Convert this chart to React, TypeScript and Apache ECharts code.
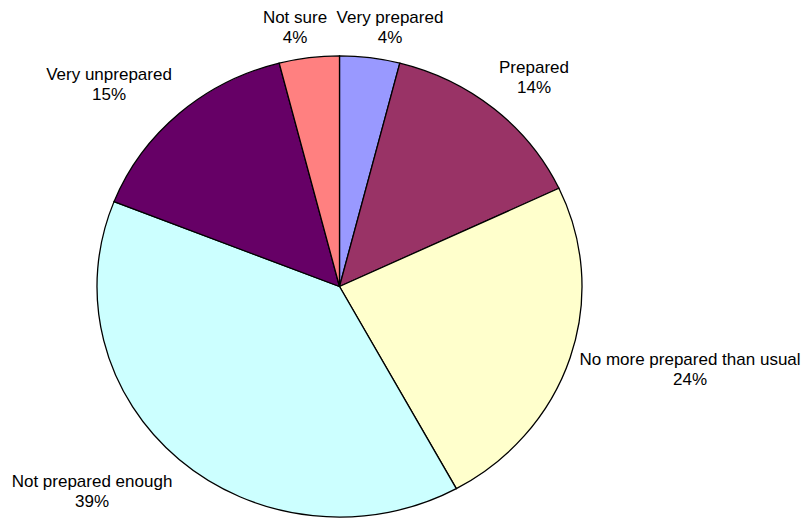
import React, { useEffect, useRef } from "react";
import * as echarts from "echarts";

const categories = [
  "Very prepared",
  "Prepared",
  "No more prepared than usual",
  "Not prepared enough",
  "Very unprepared",
  "Not sure",
];
const values = [4, 14, 24, 39, 15, 4];

const colors = ["#9999FF", "#993366", "#FFFFCC", "#CCFFFF", "#660066", "#FF8080"];
// label block centers (layout only)
const labelLayout: [number, number][] = [
  [390, 27],
  [534, 77],
  [690, 369],
  [92, 491],
  [109, 84],
  [295, 27],
];

const CX = 339.5;
const CY = 286.5;
const RX = 242.5;
const RY = 230.5;

export default function App() {
  const ref = useRef<HTMLDivElement>(null);
  useEffect(() => {
    if (!ref.current) return;
    const chart = echarts.init(ref.current, null, { renderer: "svg" });
    const total = values.reduce((a, b) => a + b, 0);
    const starts: number[] = [];
    let acc = 0;
    values.forEach((v) => {
      starts.push(acc);
      acc += v;
    });
    chart.setOption({
      animation: false,
      series: [
        {
          type: "custom",
          coordinateSystem: "none",
          data: values.map((v, i) => ({ value: v, name: categories[i] })),
          renderItem: (params: any, api: any) => {
            const i = params.dataIndex;
            const v = api.value(0);
            const a0 = -Math.PI / 2 + (starts[i] / total) * Math.PI * 2;
            const a1 = a0 + (v / total) * Math.PI * 2;
            return {
              type: "sector",
              x: CX,
              y: CY,
              scaleY: RY / RX,
              shape: { cx: 0, cy: 0, r0: 0, r: RX, startAngle: a0, endAngle: a1, clockwise: true },
              style: {
                fill: colors[i],
                stroke: "#000",
                lineWidth: 1.3,
                strokeNoScale: true,
              },
            };
          },
        },
      ],
      graphic: categories.map((c, i) => ({
        type: "text",
        x: labelLayout[i][0],
        y: labelLayout[i][1],
        style: {
          text: `${c}\n${Math.round((values[i] / total) * 100)}%`,
          fill: "#000",
          font: '17px "Liberation Sans", Arial, sans-serif',
          fontSize: 17,
          fontFamily: '"Liberation Sans", Arial, sans-serif',
          lineHeight: 20,
          align: "center",
          verticalAlign: "middle",
        },
      })),
    });
    return () => chart.dispose();
  }, []);
  return <div ref={ref} style={{ width: 804, height: 518, position: "absolute", left: 0, top: 0 }} />;
}
